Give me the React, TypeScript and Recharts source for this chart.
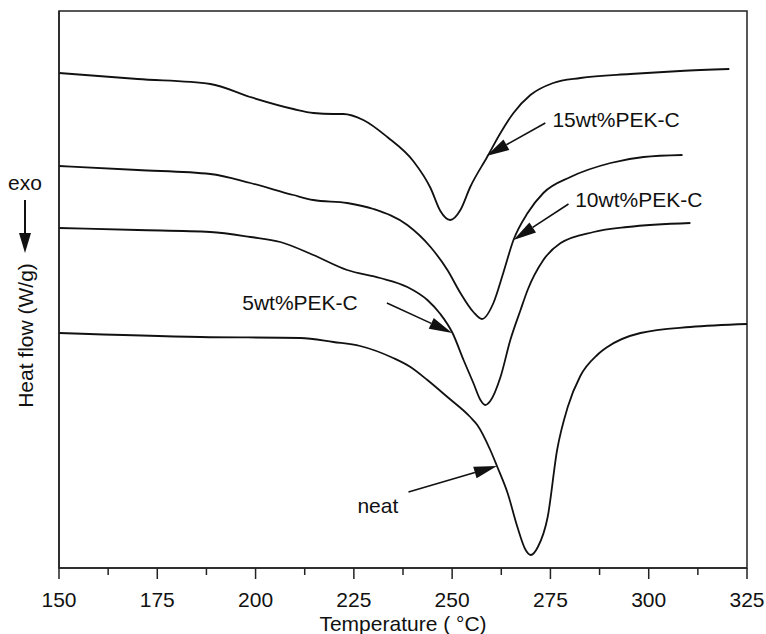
import { LineChart, Line, XAxis, YAxis, ReferenceLine, ReferenceDot, ReferenceArea, Label } from "recharts";

const FONT = "'Liberation Sans', Arial, Helvetica, sans-serif";
const INK = "#111";

// 15wt%PEK-C
const pek15Temp = [150, 170, 188.5, 198.6, 209.6, 214.7, 219.8, 222.3, 227.4, 233.5, 240.1, 244.5, 247, 249.5, 252.1, 254.6, 258.9, 262.3, 265.6, 269.9, 275.7, 282.6, 295.3, 308, 320.5];
const pek15Flow = [495, 489, 484, 471, 459, 455, 454, 454, 448, 431, 407, 380, 357, 348, 358, 381, 411, 435, 455, 473, 485, 490, 494, 497, 499];

// 10wt%PEK-C
const pek10Temp = [150, 170, 188.5, 198.7, 209.6, 214.7, 223.3, 230, 238.6, 244.5, 248.8, 252.1, 255.4, 257.6, 260.5, 263, 265.6, 269.2, 273.2, 280.1, 290.3, 298.7, 308.6];
const pek10Flow = [402, 398, 394, 385, 373, 368, 365, 359, 343, 321, 298, 275, 256, 249, 265, 295, 328, 355, 375, 391, 405, 411, 413];

// 5wt%PEK-C
const pek5Temp = [150, 170, 188.5, 198.7, 206.3, 214.7, 223.3, 231.7, 238.6, 243.7, 247, 250.1, 252.9, 255.4, 257.2, 258.4, 259.7, 262.3, 264.8, 267.4, 269.2, 273.2, 277.6, 286, 294.6, 310.6];
const pek5Flow = [340, 338, 336, 331, 326, 313, 298, 290, 281, 268, 254, 235, 208, 185, 168, 163, 167, 191, 228, 258, 278, 308, 325, 336, 341, 345];

// neat
const neatTemp = [150, 186, 211.4, 219.8, 226.6, 235, 239.4, 243.7, 248.8, 254.6, 256.4, 259.7, 261.5, 264.1, 266.6, 268.7, 270, 271.8, 274.3, 276.7, 279.4, 282.6, 286.9, 289.5, 297.9, 310.6, 325];
const neatFlow = [235, 231, 230, 226, 222, 210, 201, 188, 171, 151, 143, 118, 101, 75, 41, 18, 13, 21, 51, 118, 161, 192, 213, 221, 235, 241, 244];

const xTicks = [150, 162.5, 175, 187.5, 200, 212.5, 225, 237.5, 250, 262.5, 275, 287.5, 300, 312.5, 325];

const curveLabels = [
  { text: "15wt%PEK-C", t: 275.5, flow: 441 },
  { text: "10wt%PEK-C", t: 281.3, flow: 361 },
  { text: "5wt%PEK-C", t: 196.6, flow: 258 },
  { text: "neat", t: 225.9, flow: 55 },
];

const arrows = [
  { fromT: 273.7, fromFlow: 445, toT: 258.7, toFlow: 412 },
  { fromT: 279.6, fromFlow: 364, toT: 265.6, toFlow: 328 },
  { fromT: 233.4, fromFlow: 265, toT: 250.0, toFlow: 235 },
  { fromT: 238.9, fromFlow: 76, toT: 261.4, toFlow: 102 },
];

const toPoints = (temps: number[], flows: number[]) => temps.map((t, i) => ({ t, flow: flows[i] }));

const series = [
  toPoints(pek15Temp, pek15Flow),
  toPoints(pek10Temp, pek10Flow),
  toPoints(pek5Temp, pek5Flow),
  toPoints(neatTemp, neatFlow),
];

function TempTick(props: any) {
  const { x, y, payload } = props;
  const major = payload.value % 25 === 0;
  return (
    <g>
      <line x1={x} y1={y} x2={x} y2={y + (major ? 11 : 7)} stroke="#222" strokeWidth={1.5} />
      {major && (
        <text x={x} y={y + 39} textAnchor="middle" fontSize={21} fontFamily={FONT} fill={INK}>
          {payload.value}
        </text>
      )}
    </g>
  );
}

function ArrowShape(props: any) {
  const { x1, y1, x2, y2 } = props;
  const dx = x2 - x1;
  const dy = y2 - y1;
  const len = Math.hypot(dx, dy) || 1;
  const ux = dx / len;
  const uy = dy / len;
  const headLen = 23;
  const headW = 6;
  const bx = x2 - ux * headLen;
  const by = y2 - uy * headLen;
  return (
    <g>
      <line x1={x1} y1={y1} x2={bx} y2={by} stroke={INK} strokeWidth={1.6} />
      <polygon
        points={`${x2},${y2} ${bx - uy * headW},${by + ux * headW} ${bx + uy * headW},${by - ux * headW}`}
        fill={INK}
      />
    </g>
  );
}

function FlowLabel(props: any) {
  const vb = props.viewBox || { x: 0, y: 11 };
  const left = vb.x;
  const top = vb.y;
  return (
    <g fontFamily={FONT} fill={INK}>
      <text x={left + 25} y={top + 179} textAnchor="middle" fontSize={21}>exo</text>
      <line x1={left + 25} y1={top + 189} x2={left + 25} y2={top + 224} stroke={INK} strokeWidth={2} />
      <polygon points={`${left + 19},${top + 222} ${left + 31},${top + 222} ${left + 25},${top + 242}`} fill={INK} />
      <text transform={`translate(${left + 33}, ${top + 324.5}) rotate(-90)`} textAnchor="middle" fontSize={21}>
        Heat flow (W/g)
      </text>
    </g>
  );
}

function TempLabel(props: any) {
  const vb = props.viewBox || { x: 59, y: 568, width: 688 };
  return (
    <text x={vb.x + vb.width / 2} y={vb.y + 63} textAnchor="middle" fontSize={21} fontFamily={FONT} fill={INK}>
      Temperature ( °C)
    </text>
  );
}

export default function App() {
  return (
    <div style={{ position: "absolute", left: 0, top: 0, width: 766, height: 634, background: "#fff" }}>
      <LineChart width={766} height={634} margin={{ top: 11, right: 19, bottom: 0, left: 0 }}>
        <XAxis
          type="number"
          dataKey="t"
          domain={[150, 325]}
          ticks={xTicks}
          interval={0}
          allowDataOverflow
          height={66}
          tickSize={0}
          tickMargin={0}
          tickLine={false}
          tick={<TempTick />}
          axisLine={{ stroke: "#222", strokeWidth: 1.5 }}
        >
          <Label content={<TempLabel />} />
        </XAxis>
        <YAxis
          type="number"
          domain={[0, 557]}
          allowDataOverflow
          width={59}
          tick={false}
          tickLine={false}
          axisLine={{ stroke: "#222", strokeWidth: 1.5 }}
        >
          <Label content={<FlowLabel />} />
        </YAxis>
        <ReferenceArea x1={150} x2={325} y1={0} y2={557} fill="none" fillOpacity={0} stroke="#222" strokeWidth={1.5} ifOverflow="visible" />
        {series.map((data, i) => (
          <Line
            key={i}
            data={data}
            dataKey="flow"
            type="monotone"
            stroke={INK}
            strokeWidth={1.8}
            dot={false}
            activeDot={false}
            isAnimationActive={false}
          />
        ))}
        {arrows.map((a, i) => (
          <ReferenceLine
            key={`arrow-${i}`}
            segment={[
              { x: a.fromT, y: a.fromFlow },
              { x: a.toT, y: a.toFlow },
            ]}
            ifOverflow="visible"
            shape={(p: any) => <ArrowShape {...p} />}
          />
        ))}
        {curveLabels.map((l) => (
          <ReferenceDot
            key={l.text}
            x={l.t}
            y={l.flow}
            r={0}
            ifOverflow="visible"
            shape={(p: any) => (
              <text x={p.cx} y={p.cy} fontSize={21} fontFamily={FONT} fill={INK}>
                {l.text}
              </text>
            )}
          />
        ))}
      </LineChart>
    </div>
  );
}
